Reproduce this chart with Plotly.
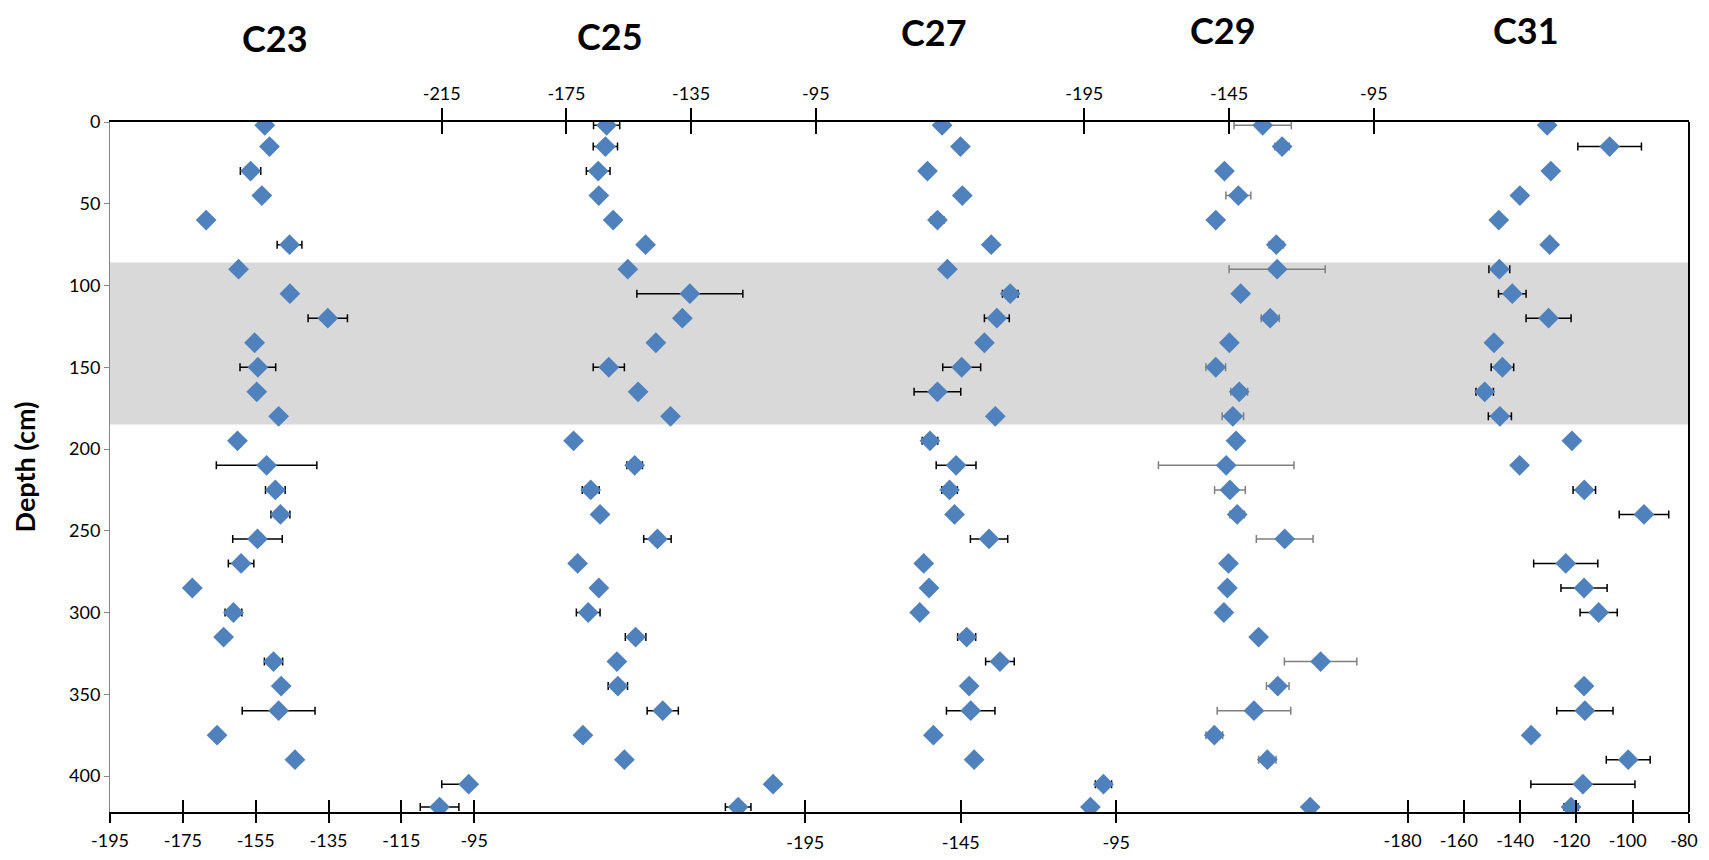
import plotly.graph_objects as go

# sample depths (cm), shared by all cores
depth = [2, 15, 30, 45, 60, 75, 90, 105, 120, 135, 150, 165, 180, 195, 210,
         225, 240, 255, 270, 285, 300, 315, 330, 345, 360, 375, 390, 405, 419]

# dD values per core (None = no sample)
c23 = [-152.5, -151.2, -156.4, -153.3, -168.6, -145.7, -159.7, -145.6, -135.2, -155.3,
       -154.4, -154.7, -148.7, -160.0, -152.0, -149.6, -148.2, -154.5, -159.0, -172.4,
       -161.1, -163.8, -150.1, -148.0, -148.7, -165.6, -144.2, -96.5, -104.5]
c23_err_plus = [0, 1, 2.8, 0, 0, 3.4, 0, 1, 5.4, 1, 4.9, 1, 0, 0, 13.8, 2.7, 2.6, 6.8,
                3.5, 0, 2.3, 1, 2.5, 1, 10, 1, 1, 0, 5.3]
c23_err_minus = [0, 1, 2.8, 0, 0, 3.4, 0, 1, 5.4, 1, 4.9, 1, 0, 0, 13.8, 2.7, 2.6, 6.8,
                 3.5, 0, 2.3, 1, 2.5, 1, 10, 1, 1, 7.4, 5.3]

c25 = [-162.1, -162.5, -164.8, -164.6, -160.0, -149.6, -155.3, -135.4, -137.8, -146.3,
       -161.4, -152.0, -141.6, -172.7, -153.1, -167.2, -164.2, -145.8, -171.4, -164.6,
       -168.0, -152.8, -158.8, -158.5, -144.1, -169.7, -156.4, -108.7, -119.9]
c25_err = [4.2, 3.9, 3.8, 0, 0, 0, 1, 17, 1.5, 0, 5, 0, 0, 0, 2.5, 2.7, 0, 4.4, 1.5, 1,
           3.8, 3.3, 0, 3.1, 5, 0, 0, 1, 4.1]

c27 = [-151.0, -145.1, -155.7, -144.5, -152.5, -135.2, -149.3, -129.1, -133.4, -137.4,
       -144.7, -152.5, -133.9, -154.9, -146.5, -148.6, -147.0, -135.9, -156.9, -155.2,
       -158.2, -143.1, -132.4, -142.3, -141.8, -153.8, -140.7, -99.1, -103.3]
c27_err = [0, 0, 0, 0, 2, 0, 0, 2.5, 4, 0, 6.1, 7.5, 0, 2.5, 6.4, 2.5, 0, 6, 0, 0, 0,
           2.9, 4.6, 0, 7.8, 0, 0, 2.6, 0]

c29 = [-133.4, -126.7, -146.6, -141.8, -149.6, -128.7, -128.4, -141.0, -130.8, -144.9,
       -149.6, -141.5, -143.7, -142.6, -146.0, -144.7, -142.2, -125.8, -145.2, -145.6,
       -146.8, -134.8, -113.4, -128.2, -136.4, -150.1, -131.8, None, -117.0]
c29_err = [9.9, 2.5, 0, 4.3, 1.5, 2.5, 16.6, 0, 3.1, 0, 3.4, 2.9, 3.7, 0, 23.4, 5.3, 2.5,
           9.8, 0, 0, 2, 0, 12.5, 3.9, 12.7, 2.9, 3, None, 0]

c31 = [-130.4, -108.2, -129.1, -140.1, -147.6, -129.5, -147.4, -142.8, -129.9, -149.3,
       -146.3, -152.6, -147.2, -121.6, -140.2, -117.2, -96.0, None, -123.8, -117.3,
       -112.1, None, None, -117.3, -117.0, -136.1, -101.6, -117.7, -121.9]
c31_err = [0, 11.3, 0, 1.5, 0, 1.5, 3.7, 4.9, 8, 1.5, 4, 3.1, 4.1, 1.5, 0, 4, 8.8, None,
           11.4, 8.2, 6.6, None, None, 0, 10, 0, 7.8, 18.5, 2.5]

titles = ["C23", "C25", "C27", "C29", "C31"]
ticks_c23 = [-195, -175, -155, -135, -115, -95]
ticks_c25 = [-215, -175, -135, -95]
ticks_c27 = [-195, -145, -95]
ticks_c29 = [-195, -145, -95]
ticks_c31 = [-180, -160, -140, -120, -100, -80]
depth_ticks = [0, 50, 100, 150, 200, 250, 300, 350, 400]
band_top, band_bottom = 86, 185

BLUE = '#4F81BD'
FONT = 'Lato, Arial, sans-serif'

fig = go.Figure()

series = [
    (c23, c23_err_plus, c23_err_minus, 'x', 'black'),
    (c25, c25_err, c25_err, 'x2', 'black'),
    (c27, c27_err, c27_err, 'x3', 'black'),
    (c29, c29_err, c29_err, 'x4', '#808080'),
    (c31, c31_err, c31_err, 'x5', 'black'),
]
for vals, ep, em, xa, ecol in series:
    fig.add_trace(go.Scatter(
        x=vals, y=depth, xaxis=xa, yaxis='y', mode='markers',
        marker=dict(symbol='diamond', size=16, color=BLUE, line=dict(width=0)),
        error_x=dict(type='data', symmetric=False, array=ep, arrayminus=em,
                     color=ecol, thickness=1.5, width=4),
        showlegend=False
    ))

# twin axes carry the inner half of the "cross" tick marks
for i in range(6, 11):
    fig.add_trace(go.Scatter(x=[], y=[], xaxis=f'x{i}', yaxis='y',
                             showlegend=False, hoverinfo='skip'))


def xaxis(rng, ticks, side, overlay, inside=False, standoff=6, shift=0):
    ax = dict(
        range=rng, tickmode='array', tickvals=ticks,
        ticktext=[str(t) for t in ticks], side=side, anchor='y',
        showline=True, linecolor='black', linewidth=2,
        ticks='inside' if inside else 'outside',
        ticklen=12 if (inside or side == 'top') else 9, tickwidth=1.5,
        tickcolor='black', showgrid=False, zeroline=False, automargin=False,
        showticklabels=not inside, ticklabelstandoff=standoff,
        ticklabelshift=shift,
        tickfont=dict(family=FONT, size=18, color='black'),
    )
    if overlay:
        ax['overlaying'] = 'x'
    return ax


axes_spec = [
    ([-195, 238.6], ticks_c23, 'bottom', 2, 0),
    ([-321.4, 185.1], ticks_c25, 'top', 1, 0),
    ([-418.6, 89.2], ticks_c27, 'bottom', 4, 0),
    ([-531.4, 13.8], ticks_c29, 'top', 1, 0),
    ([-641.1, -80], ticks_c31, 'bottom', 2, -5),
]
layout_axes = {}
for k, (rng, tk, side, so, sh) in enumerate(axes_spec):
    name = 'xaxis' if k == 0 else f'xaxis{k + 1}'
    layout_axes[name] = xaxis(rng, tk, side, k > 0, standoff=so, shift=sh)
    layout_axes[f'xaxis{k + 6}'] = xaxis(rng, tk, side, True, inside=True)

fig.update_layout(**layout_axes)

# the page body adds an 8px margin, so the figure is sized to fit inside it
fig.update_layout(
    width=1693, height=844,
    margin=dict(l=102, r=12, t=114, b=40),
    plot_bgcolor='white', paper_bgcolor='white',
    showlegend=False,
    font=dict(family=FONT, color='black'),
    yaxis=dict(
        range=[422, 0], tickmode='array', tickvals=depth_ticks,
        showline=True, linecolor='#868686', linewidth=1,
        ticks='outside', ticklen=5, tickcolor='#868686',
        showgrid=False, zeroline=False, automargin=False,
        tickfont=dict(family=FONT, size=18, color='black'),
        title=dict(text='<b>Depth (cm)</b>', font=dict(family=FONT, size=27),
                   standoff=28),
    ),
)

fig.add_shape(type='rect', xref='paper', yref='y', x0=0, x1=1,
              y0=band_top, y1=band_bottom, fillcolor='#D9D9D9',
              line=dict(width=0), layer='below')
fig.add_shape(type='line', xref='paper', yref='paper', x0=1, x1=1, y0=0, y1=1,
              line=dict(color='black', width=2))

title_pos = [(0.1045, 1.122), (0.3167, 1.125), (0.5219, 1.130),
             (0.7049, 1.1333), (0.8968, 1.1333)]
for t, (px, py) in zip(titles, title_pos):
    fig.add_annotation(text=f'<b>{t}</b>', xref='paper', yref='paper', x=px, y=py,
                       showarrow=False, xanchor='center', yanchor='middle',
                       font=dict(family=FONT, size=36, color='black'))

fig.write_html("out.html")
